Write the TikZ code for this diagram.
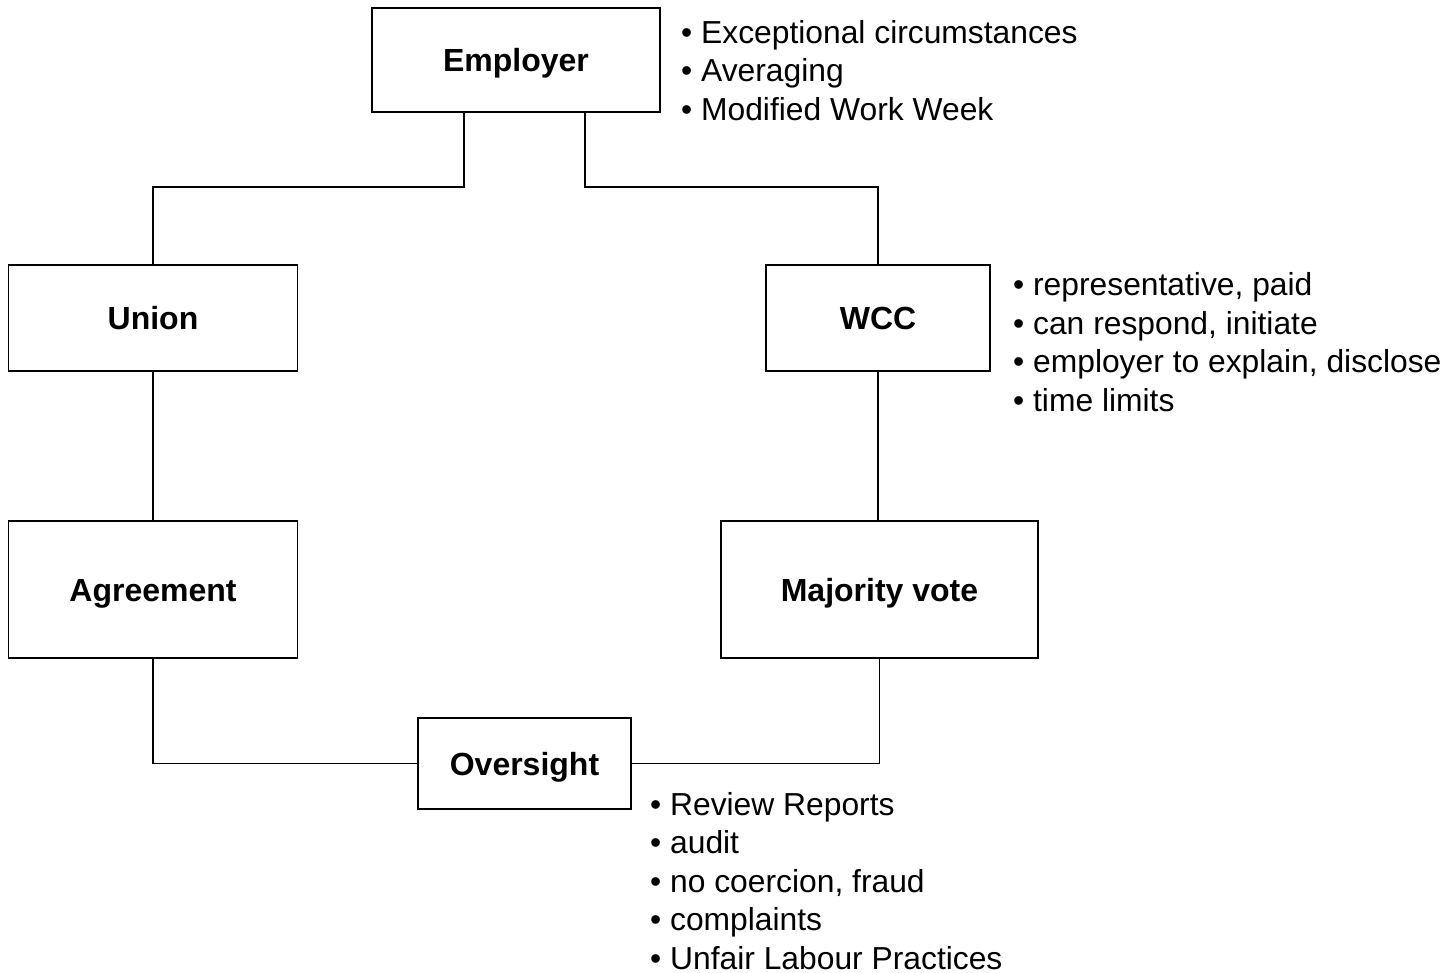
\documentclass[tikz,border=0pt]{standalone}
\usepackage{fontspec}
\setmainfont{Liberation Sans}
\begin{document}
\begin{tikzpicture}[x=1pt,y=-1pt,
  box/.style={draw=black,line width=1.8pt,fill=white,font=\fontsize{32}{38}\selectfont\bfseries,inner sep=0pt,text height=25pt,text depth=2pt},
  notes/.style={align=left,anchor=west,inner sep=0pt,font=\fontsize{31.8}{38.5}\selectfont},
  link/.style={draw=black,line width=1.8pt}]
\useasboundingbox (0,0) rectangle (1451,972);
\node[box,minimum width=288pt,minimum height=104pt] (emp) at (516,60) {Employer};
\node[box,minimum width=289pt,minimum height=106pt] (union) at (153,318) {Union};
\node[box,minimum width=224pt,minimum height=106pt] (wcc) at (878,318) {WCC};
\node[box,minimum width=289pt,minimum height=137pt] (agr) at (153,589.5) {Agreement};
\node[box,minimum width=317pt,minimum height=137pt] (maj) at (879.5,589.5) {Majority vote};
\node[box,minimum width=213pt,minimum height=91pt] (ovs) at (524.5,763.5) {Oversight};
\node[notes] (empn) at (681,70.5) {• Exceptional circumstances\\• Averaging\\• Modified Work Week};
\node[notes] (wccn) at (1013,342) {• representative, paid\\• can respond, initiate\\• employer to explain, disclose\\• time limits};
\node[notes] (ovsn) at (650,881) {• Review Reports\\• audit\\• no coercion, fraud\\• complaints\\• Unfair Labour Practices};
\coordinate (j1) at (153,187);
\coordinate (j2) at (878,187);
\draw[link] (emp.south -| 464,0) |- (j1) -- (union.north);
\draw[link] (emp.south -| 585,0) |- (j2) -- (wcc.north);
\draw[link] (union.south) -- (agr.north);
\draw[link] (wcc.south) -- (wcc.south |- maj.north);
\draw[link] (agr.south) |- (ovs.west);
\draw[link] (maj.south) |- (ovs.east);
\end{tikzpicture}
\end{document}
